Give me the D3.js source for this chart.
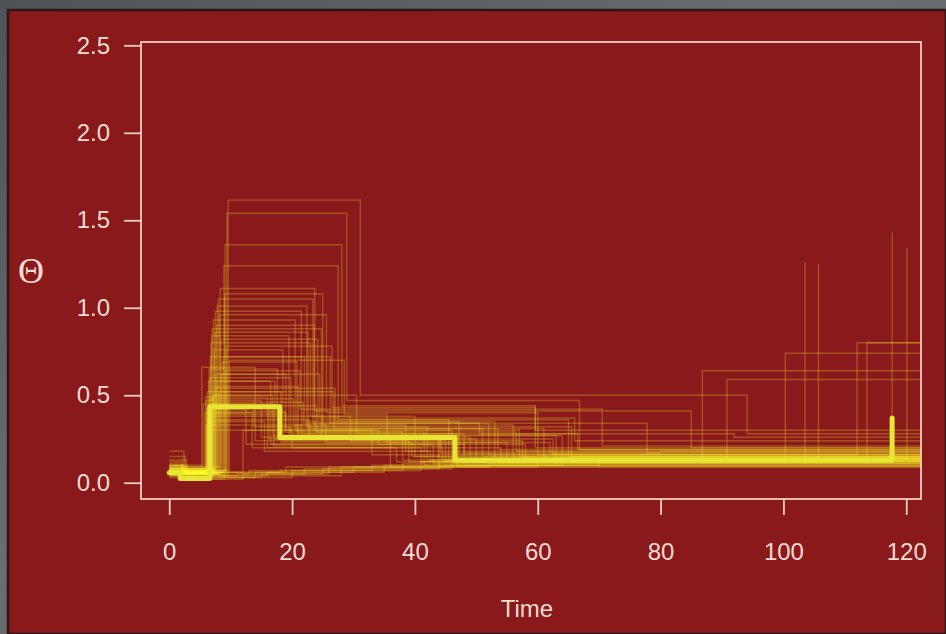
<!DOCTYPE html>
<html>
<head>
<meta charset="utf-8">
<script src="https://cdn.jsdelivr.net/npm/d3@7"></script>
<style>
  html, body { margin: 0; padding: 0; background: #585c60; }
  svg { display: block; }
</style>
</head>
<body>
<svg id="chart" width="946" height="634"></svg>
<script>
// Axis ticks
const xTicks = [0, 20, 40, 60, 80, 100, 120];
const yTicks = [0, 0.5, 1.0, 1.5, 2.0, 2.5];
const xDomain = [-4.6, 122.4];
const yDomain = [-0.093, 2.519];

// Summary step path of Θ over time: [time, value] change points
const summaryPath = [[0, 0.057], [1.8, 0.024], [6.6, 0.434], [18.0, 0.258], [46.5, 0.128], [117.7, 0.37]];

// Posterior sample paths with a tall early peak
const peakPaths = [
  [[0, 0.09], [2.5, 0.05], [9.6, 1.615], [31.1, 0.50], [94.1, 0.28], [125, 0.28]],
  [[0, 0.07], [9.4, 1.54], [28.9, 0.47], [66.8, 0.19], [125, 0.19]],
  [[0, 0.12], [2.2, 0.06], [9.1, 1.36], [28.1, 0.44], [59.6, 0.20], [125, 0.20]],
  [[0, 0.06], [8.9, 1.24], [27.5, 0.36], [65.0, 0.15], [125, 0.15]],
  [[0, 0.10], [3.0, 0.05], [8.3, 1.11], [23.7, 0.30], [46.0, 0.14], [125, 0.14]],
  [[0, 0.05], [8.0, 1.05], [23.4, 0.34], [52.0, 0.16], [125, 0.16]],
  [[0, 0.08], [7.8, 1.01], [22.4, 0.32], [42.0, 0.13], [103.5, 1.26]],
  [[0, 0.06], [7.5, 0.98], [21.5, 0.28], [48.0, 0.12], [125, 0.12]],
  [[0, 0.15], [2.6, 0.04], [7.2, 0.93], [20.5, 0.30], [57.0, 0.15], [125, 0.15]],
  [[0, 0.07], [7.0, 0.88], [24.8, 0.26], [44.0, 0.14], [125, 0.14]],
  [[0, 0.05], [6.9, 0.84], [19.5, 0.27], [63.0, 0.13], [125, 0.13]],
  [[0, 0.09], [6.8, 0.80], [23.0, 0.38], [40.0, 0.15], [125, 0.15]],
  [[0, 0.06], [7.3, 0.76], [18.5, 0.24], [45.0, 0.12], [117.7, 1.43]],
  [[0, 0.11], [2.0, 0.05], [6.7, 0.72], [22.0, 0.35], [53.0, 0.14], [125, 0.14]],
  [[0, 0.06], [8.6, 0.69], [20.8, 0.29], [38.0, 0.13], [125, 0.13]],
  [[0, 0.08], [6.5, 0.65], [17.6, 0.25], [50.0, 0.12], [105.7, 1.25]],
  [[0, 0.05], [7.6, 0.62], [19.0, 0.31], [61.0, 0.14], [125, 0.14]],
  [[0, 0.13], [2.8, 0.06], [6.4, 0.58], [16.5, 0.22], [43.0, 0.11], [125, 0.11]],
  [[0, 0.07], [7.1, 0.55], [21.0, 0.27], [47.0, 0.13], [86.8, 0.64], [125, 0.64]],
  [[0, 0.06], [6.2, 0.52], [18.2, 0.23], [55.0, 0.12], [90.8, 0.59], [125, 0.59]],
  [[0, 0.09], [5.9, 0.49], [16.0, 0.20], [41.0, 0.12], [125, 0.12]],
  [[0, 0.05], [6.0, 0.47], [15.0, 0.26], [49.0, 0.14], [100.3, 0.74], [125, 0.74]],
  [[0, 0.10], [5.5, 0.45], [17.0, 0.21], [44.5, 0.13], [125, 0.13]],
  [[0, 0.06], [8.2, 0.96], [25.6, 0.40], [60.0, 0.16], [112.0, 0.80], [125, 0.80]],
  [[0, 0.08], [7.7, 0.90], [23.6, 0.41], [85.0, 0.20], [125, 0.20]],
  [[0, 0.07], [5.3, 0.66], [14.0, 0.24], [39.0, 0.12], [113.6, 0.80], [125, 0.80]],
  [[0, 0.04], [9.0, 1.08], [25.0, 0.33], [56.0, 0.14], [120.1, 1.34]],
  [[0, 0.18], [2.4, 0.07], [7.4, 0.86], [22.6, 0.31], [51.0, 0.15], [125, 0.15]],
  [[0, 0.06], [6.6, 0.60], [19.8, 0.28], [66.5, 0.19], [125, 0.19]],
  [[0, 0.09], [8.4, 0.82], [24.2, 0.36], [45.5, 0.13], [125, 0.13]],
  [[0, 0.07], [9.8, 0.70], [28.5, 0.39], [35.5, 0.23], [62.0, 0.17], [125, 0.17]],
  [[0, 0.06], [9.3, 0.78], [26.5, 0.43], [59.6, 0.30], [125, 0.30]],
  [[0, 0.05], [8.5, 0.62], [24.5, 0.37], [66.0, 0.24], [125, 0.24]]
];

// Sample paths with a moderate early rise and a long plateau
const plateauPaths = [
  [[0, 0.07], [6.9, 0.45], [13.8, 0.32], [65.5, 0.15], [125, 0.15]],
  [[0, 0.05], [7.2, 0.50], [16.8, 0.27], [64.0, 0.14], [125, 0.14]],
  [[0, 0.08], [6.1, 0.42], [12.5, 0.22], [58.0, 0.13], [125, 0.13]],
  [[0, 0.06], [7.9, 0.58], [17.2, 0.25], [62.5, 0.16], [125, 0.16]],
  [[0, 0.10], [2.3, 0.05], [6.4, 0.30], [20.0, 0.20], [54.0, 0.13], [125, 0.13]],
  [[0, 0.05], [8.8, 0.72], [26.2, 0.34], [77.8, 0.17], [125, 0.17]],
  [[0, 0.07], [9.2, 0.64], [21.3, 0.42], [70.5, 0.21], [125, 0.21]],
  [[0, 0.06], [6.8, 0.38], [29.5, 0.24], [57.5, 0.14], [125, 0.14]],
  [[0, 0.05], [5.8, 0.40], [13.5, 0.20], [37.0, 0.12], [125, 0.12]],
  [[0, 0.07], [6.3, 0.35], [15.5, 0.18], [42.5, 0.13], [125, 0.13]],
  [[0, 0.06], [12.0, 0.30], [33.0, 0.16], [125, 0.16]],
  [[0, 0.06], [7.0, 0.40], [19.0, 0.30], [34.0, 0.22], [48.0, 0.17], [125, 0.17]],
  [[0, 0.08], [6.6, 0.48], [20.2, 0.33], [38.5, 0.18], [125, 0.18]],
  [[0, 0.05], [7.4, 0.44], [24.0, 0.29], [41.5, 0.10], [125, 0.10]],
  [[0, 0.07], [8.1, 0.52], [26.8, 0.31], [53.5, 0.19], [125, 0.19]],
  [[0, 0.09], [2.7, 0.05], [6.2, 0.36], [22.8, 0.26], [43.8, 0.095], [125, 0.095]],
  [[0, 0.06], [7.6, 0.54], [27.0, 0.35], [47.2, 0.16], [125, 0.16]],
  [[0, 0.05], [6.8, 0.41], [18.8, 0.29], [56.5, 0.18], [125, 0.18]],
  [[0, 0.06], [7.0, 0.50], [30.5, 0.28], [46.8, 0.10], [125, 0.10]],
  [[0, 0.08], [6.0, 0.33], [25.5, 0.23], [39.5, 0.15], [125, 0.15]],
  [[0, 0.07], [7.3, 0.46], [21.8, 0.34], [50.5, 0.28], [92.0, 0.26], [125, 0.26]],
  [[0, 0.10], [2.1, 0.06], [6.5, 0.39], [17.9, 0.27], [44.2, 0.17], [80.0, 0.18], [125, 0.18]],
  [[0, 0.06], [6.3, 0.43], [16.2, 0.25], [36.0, 0.09], [125, 0.09]]
];

// Sample paths that stay low and creep upward
const lowPaths = [
  [[0, 0.05], [2.0, 0.02], [9.0, 0.04], [16.0, 0.06], [30.0, 0.09], [52.0, 0.11], [125, 0.11]],
  [[0, 0.06], [7.0, 0.03], [20.0, 0.07], [41.0, 0.12], [125, 0.12]],
  [[0, 0.04], [11.0, 0.05], [25.0, 0.08], [46.0, 0.11], [125, 0.11]],
  [[0, 0.08], [3.0, 0.03], [14.0, 0.06], [35.0, 0.10], [70.0, 0.13], [125, 0.13]],
  [[0, 0.05], [8.0, 0.04], [28.0, 0.09], [60.0, 0.12], [125, 0.12]],
  [[0, 0.06], [18.0, 0.07], [38.0, 0.11], [125, 0.11]],
  [[0, 0.03], [6.5, 0.02], [12.0, 0.05], [22.0, 0.08], [44.0, 0.12], [125, 0.12]],
  [[0, 0.04], [9.5, 0.06], [19.0, 0.09], [45.0, 0.10], [125, 0.10]],
  [[0, 0.07], [4.0, 0.03], [15.0, 0.05], [26.0, 0.09], [125, 0.09]],
  [[0, 0.05], [13.0, 0.07], [33.0, 0.10], [64.0, 0.14], [125, 0.14]]
];

const W = 946, H = 634;
const box = { left: 141, right: 921, top: 42, bottom: 499 };

const svg = d3.select("#chart");

// Slide frame and panel
const defs = svg.append("defs");
const grad = defs.append("linearGradient").attr("id", "frameGrad")
  .attr("x1", "0").attr("y1", "0").attr("x2", "1").attr("y2", "1");
grad.append("stop").attr("offset", "0%").attr("stop-color", "#4f5357");
grad.append("stop").attr("offset", "45%").attr("stop-color", "#6a6e72");
grad.append("stop").attr("offset", "100%").attr("stop-color", "#505458");
svg.append("rect").attr("width", W).attr("height", H).attr("fill", "url(#frameGrad)");
svg.append("rect").attr("x", 8).attr("y", 10).attr("width", W - 8).attr("height", H - 10)
  .attr("fill", "#8a191c").attr("stroke", "#2e1515").attr("stroke-width", 2.5);

defs.append("clipPath").attr("id", "plotClip").append("rect")
  .attr("x", box.left).attr("y", box.top)
  .attr("width", box.right - box.left).attr("height", box.bottom - box.top);

defs.append("filter").attr("id", "soft")
  .attr("x", "-5%").attr("y", "-5%").attr("width", "110%").attr("height", "110%")
  .append("feGaussianBlur").attr("stdDeviation", 0.6);

const x = d3.scaleLinear().domain(xDomain).range([box.left, box.right]);
const y = d3.scaleLinear().domain(yDomain).range([box.bottom, box.top]);

const line = d3.line().x(d => x(d[0])).y(d => y(d[1])).curve(d3.curveStepAfter);

const plot = svg.append("g").attr("clip-path", "url(#plotClip)");
const lines = plot.append("g").attr("filter", "url(#soft)");

const samples = [...peakPaths, ...plateauPaths, ...lowPaths];
lines.selectAll("path.sample").data(samples).join("path")
  .attr("class", "sample")
  .attr("d", line)
  .attr("fill", "none")
  .attr("stroke", "#ffff28")
  .attr("stroke-opacity", 0.24)
  .attr("stroke-width", 1.4);

lines.append("path").datum(summaryPath)
  .attr("d", line)
  .attr("fill", "none")
  .attr("stroke", "#e8e636")
  .attr("stroke-width", 5)
  .attr("stroke-linejoin", "round")
  .attr("stroke-linecap", "round");

// Axes
const axisColor = "#f3cdbf";
const textColor = "#f4dcd2";

const xAxis = svg.append("g").attr("transform", `translate(0,${box.bottom})`)
  .call(d3.axisBottom(x).tickValues(xTicks).tickFormat(d3.format("d")).tickSize(16).tickPadding(28));
const yAxis = svg.append("g").attr("transform", `translate(${box.left},0)`)
  .call(d3.axisLeft(y).tickValues(yTicks).tickFormat(d3.format(".1f")).tickSize(17).tickPadding(14));

[xAxis, yAxis].forEach(g => {
  g.select(".domain").remove();
  g.selectAll(".tick line").attr("stroke", axisColor).attr("stroke-width", 1.8);
  g.selectAll(".tick text").attr("fill", textColor)
    .attr("font-family", "'Liberation Sans', Arial, sans-serif").attr("font-size", 24);
});

svg.append("rect")
  .attr("x", box.left).attr("y", box.top)
  .attr("width", box.right - box.left).attr("height", box.bottom - box.top)
  .attr("fill", "none").attr("stroke", axisColor).attr("stroke-width", 1.8);

svg.append("text").attr("x", 527).attr("y", 609).attr("dy", "0.35em")
  .attr("text-anchor", "middle").attr("fill", textColor)
  .attr("font-family", "'Liberation Sans', Arial, sans-serif").attr("font-size", 24)
  .text("Time");

svg.append("text").attr("x", 31).attr("y", 270).attr("dy", "0.36em")
  .attr("text-anchor", "middle").attr("fill", textColor)
  .attr("font-family", "'Liberation Serif', 'DejaVu Serif', serif").attr("font-size", 36)
  .text("Θ");
</script>
</body>
</html>
